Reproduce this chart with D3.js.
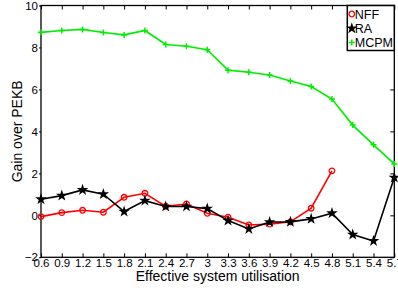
<!DOCTYPE html>
<html>
<head>
<meta charset="utf-8">
<script src="https://cdn.jsdelivr.net/npm/d3@7"></script>
<style>
  body { margin: 0; background: #fff; }
  svg { display: block; font-family: "Liberation Sans", Arial, sans-serif; }
</style>
</head>
<body>
<div id="chart"></div>
<script>
// Dades llegides de la figura
const utilisation = [0.6, 0.9, 1.2, 1.5, 1.8, 2.1, 2.4, 2.7, 3.0, 3.3, 3.6, 3.9, 4.2, 4.5, 4.8, 5.1, 5.4, 5.7];
const xTickLabels = ['0.6', '0.9', '1.2', '1.5', '1.8', '2.1', '2.4', '2.7', '3', '3.3', '3.6', '3.9', '4.2', '4.5', '4.8', '5.1', '5.4', '5.7'];
const yTicks = [-2, 0, 2, 4, 6, 8, 10];

const nff = [-0.06, 0.13, 0.24, 0.15, 0.86, 1.05, 0.43, 0.54, 0.10, -0.09, -0.46, -0.42, -0.31, 0.34, 2.12];
const ra = [0.77, 0.94, 1.21, 1.01, 0.18, 0.70, 0.42, 0.42, 0.32, -0.25, -0.65, -0.32, -0.31, -0.17, 0.10, -0.92, -1.22, 1.80];
const mcpm = [8.72, 8.81, 8.86, 8.71, 8.60, 8.81, 8.14, 8.06, 7.89, 6.92, 6.82, 6.69, 6.40, 6.14, 5.54, 4.30, 3.36, 2.45];

const width = 398, height = 294;
const margin = { top: 5.5, right: 3.7, bottom: 36.7, left: 41 };
const innerW = width - margin.left - margin.right;
const innerH = height - margin.top - margin.bottom;

const svg = d3.select('#chart').append('svg')
    .attr('width', width)
    .attr('height', height);

const g = svg.append('g')
    .attr('transform', `translate(${margin.left},${margin.top})`);

const x = d3.scaleLinear().domain([0.6, 5.7]).range([0, innerW]);
const y = d3.scaleLinear().domain([-2, 10]).range([innerH, 0]);

// Eixos amb marques cap a dins, estil MATLAB
const fmtX = (d, i) => xTickLabels[i];

g.append('g')
    .attr('transform', `translate(0,${innerH})`)
    .call(d3.axisBottom(x).tickValues(utilisation).tickFormat(fmtX).tickSizeInner(-4).tickSizeOuter(0).tickPadding(3))
    .call(ax => ax.select('.domain').remove())
    .call(ax => ax.selectAll('text').attr('font-size', 11.5).attr('fill', '#000').attr('dy', '0.6em'));

g.append('g')
    .call(d3.axisTop(x).tickValues(utilisation).tickFormat('').tickSizeInner(-4).tickSizeOuter(0))
    .call(ax => ax.select('.domain').remove());

g.append('g')
    .call(d3.axisLeft(y).tickValues(yTicks).tickFormat(d => d < 0 ? '\u2212' + Math.abs(d) : d).tickSizeInner(2).tickSizeOuter(0).tickPadding(1))
    .call(ax => ax.select('.domain').remove())
    .call(ax => ax.selectAll('text').attr('font-size', 11.5).attr('fill', '#000'));

g.append('g')
    .attr('transform', `translate(${innerW},0)`)
    .call(d3.axisRight(y).tickValues(yTicks).tickFormat('').tickSizeInner(-4).tickSizeOuter(0))
    .call(ax => ax.select('.domain').remove());

g.append('rect')
    .attr('width', innerW)
    .attr('height', innerH)
    .attr('fill', 'none')
    .attr('stroke', '#000')
    .attr('stroke-width', 1.3);

// Línies
const series = [
    { name: 'NFF', values: nff, color: '#ff0000', marker: 'circle' },
    { name: 'RA', values: ra, color: '#000000', marker: 'star' },
    { name: 'MCPM', values: mcpm, color: '#00ee00', marker: 'plus' }
];

const line = d3.line()
    .x((d, i) => x(utilisation[i]))
    .y(d => y(d));

const symbols = {
    circle: d3.symbol().type(d3.symbolCircle).size(26)(),
    star: d3.symbol().type(d3.symbolStar).size(42)(),
    plus: d3.symbol().type(d3.symbolCross).size(22)()
};

function drawMarker(sel, s) {
    if (s.marker === 'circle') {
        sel.append('circle').attr('r', 2.8)
            .attr('fill', 'none').attr('stroke', s.color).attr('stroke-width', 1.3);
    } else if (s.marker === 'star') {
        sel.append('path').attr('d', symbols.star).attr('fill', s.color);
    } else {
        sel.append('path').attr('d', 'M-3,0H3M0,-3V3')
            .attr('stroke', s.color).attr('stroke-width', 1.5);
    }
}

series.forEach(s => {
    g.append('path')
        .datum(s.values)
        .attr('fill', 'none')
        .attr('stroke', s.color)
        .attr('stroke-width', 1.6)
        .attr('d', line);

    s.values.forEach((v, i) => {
        const m = g.append('g').attr('transform', `translate(${x(utilisation[i])},${y(v)})`);
        drawMarker(m, s);
    });
});

// Llegenda
const legW = 47, legH = 45;
const leg = g.append('g').attr('transform', `translate(${innerW - legW},0)`);
leg.append('rect')
    .attr('width', legW)
    .attr('height', legH)
    .attr('fill', '#fff')
    .attr('stroke', '#000')
    .attr('stroke-width', 1.5);

series.forEach((s, i) => {
    const row = leg.append('g').attr('transform', `translate(4.5,${8.5 + i * 14.3})`);
    drawMarker(row, s);
    row.append('text')
        .attr('x', 3)
        .attr('y', 0)
        .attr('dy', '0.36em')
        .attr('font-size', 12.5)
        .text(s.name);
});

// Títols dels eixos
svg.append('text')
    .attr('x', margin.left + innerW / 2)
    .attr('y', 281)
    .attr('text-anchor', 'middle')
    .attr('font-size', 14)
    .text('Effective system utilisation');

svg.append('text')
    .attr('transform', `translate(22,${margin.top + innerH / 2}) rotate(-90)`)
    .attr('text-anchor', 'middle')
    .attr('font-size', 14)
    .text('Gain over PEKB');
</script>
</body>
</html>
